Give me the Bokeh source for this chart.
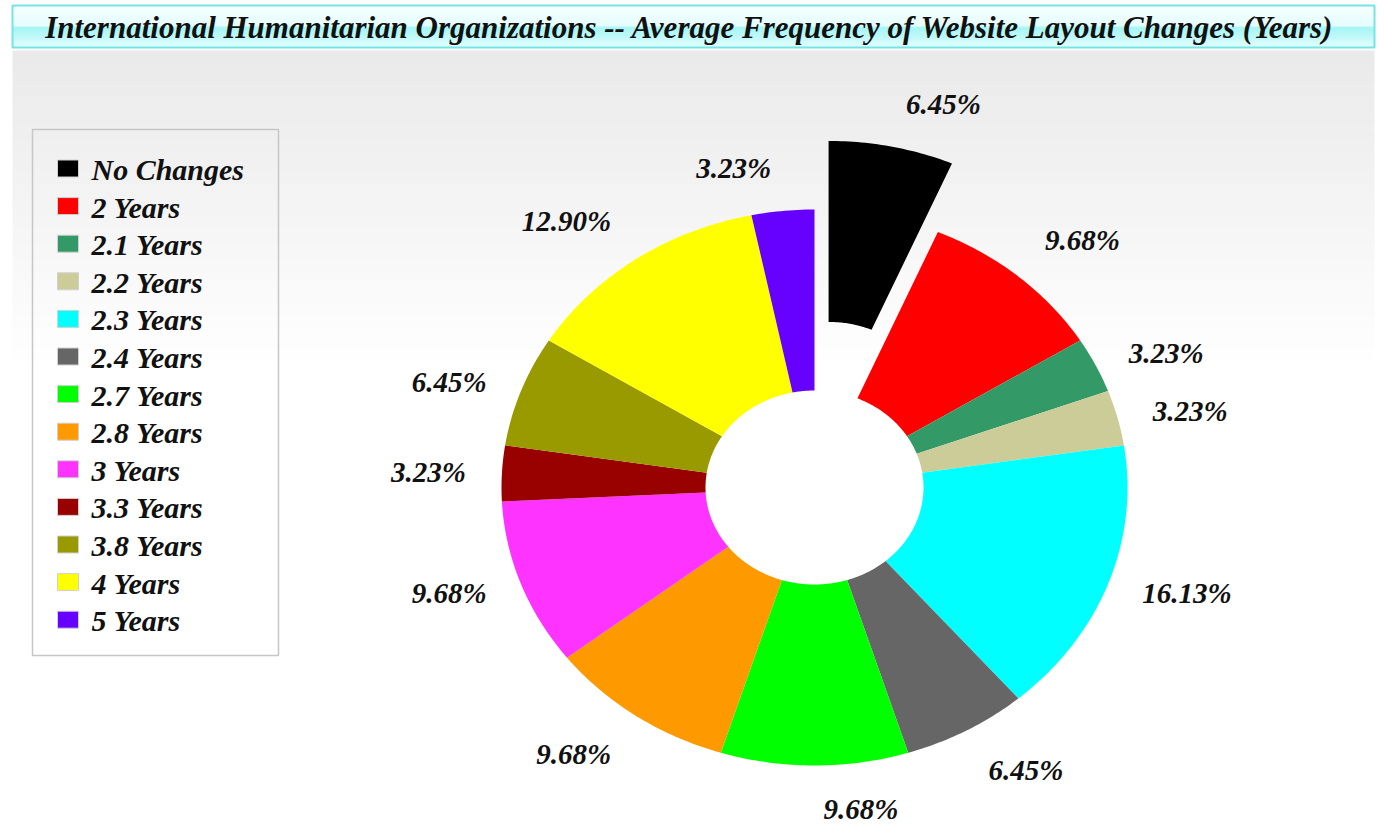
import numpy as np
from bokeh.plotting import figure
from bokeh.models import Range1d, ColumnDataSource
from bokeh.core.properties import value
from bokeh.embed import file_html
from bokeh.resources import INLINE

# ---------------- data ----------------
title = "International Humanitarian Organizations  -- Average Frequency of Website Layout Changes (Years)"
categories = ["No Changes", "2 Years", "2.1 Years", "2.2 Years", "2.3 Years", "2.4 Years",
              "2.7 Years", "2.8 Years", "3 Years", "3.3 Years", "3.8 Years", "4 Years", "5 Years"]
percent = [6.45, 9.68, 3.23, 3.23, 16.13, 6.45, 9.68, 9.68, 9.68, 3.23, 6.45, 12.90, 3.23]
colors = ["#000000", "#ff0000", "#339966", "#cccc99", "#00ffff", "#666666", "#00ff00",
          "#ff9900", "#ff33ff", "#990000", "#999900", "#ffff00", "#6600ff"]
exploded = [True, False, False, False, False, False, False, False, False, False, False, False, False]

# ---------------- layout (page pixel space) ----------------
W, H = 1384, 824
CX, CY = 814, 487          # pie centre
RX, RY = 313, 278          # outer radii
IRX, IRY = 109, 97         # inner radii
EXPLODE = 70
LRX, LRY, LPAD = 340, 305, 9
FONT = "Liberation Serif"

p = figure(width=W, height=H, output_backend="svg", toolbar_location=None,
           x_range=Range1d(0, W), y_range=Range1d(H, 0),
           min_border=0, x_axis_location=None, y_axis_location=None,
           background_fill_color="white", border_fill_color="white", outline_line_color=None)
p.grid.visible = False

# background gradient
nb = 120
ys = np.linspace(50, 380, nb + 1)
g = np.clip(234 + (ys[:-1] - 50) / 310 * 21, 234, 255).astype(int)
p.quad(left=12, right=1374, top=ys[:-1], bottom=ys[1:] + 0.5,
       fill_color=["#%02x%02x%02x" % (v, v, v) for v in g], line_color=None)

# title box
tb_top, tb_bot = 5, 47
tmid = (tb_top + tb_bot) / 2
n1 = 20
y1 = np.linspace(tb_top, tmid, n1 + 1)
c1 = [(int(248 - 22 * f), int(255 - 2 * f), int(255 - 2 * f)) for f in np.linspace(0, 1, n1)]
y2 = np.linspace(tmid, tb_bot, n1 + 1)
c2 = [(int(165 + 55 * f), int(245 + 8 * f), int(245 + 8 * f)) for f in np.linspace(0, 1, n1)]
p.quad(left=12, right=1374, top=np.concatenate([y1[:-1], y2[:-1]]), bottom=np.concatenate([y1[1:], y2[1:]]) + 0.3,
       fill_color=["#%02x%02x%02x" % c for c in c1 + c2], line_color=None)
p.quad(left=12, right=1374, top=tb_top, bottom=tb_bot, fill_color=None,
       line_color="#77e3e3", line_width=2)
p.text(x=[(12 + 1374) / 2], y=[tmid + 1], text=[title], text_align="center", text_baseline="middle",
       text_font=value(FONT), text_font_style="bold italic", text_font_size="31px", text_color="#111111")

# ---------------- donut ----------------
vals = np.array(percent, dtype=float)
frac = vals / vals.sum()
ends = np.cumsum(frac) * 2 * np.pi
starts = ends - frac * 2 * np.pi
mids = (starts + ends) / 2

xs_list, ys_list = [], []
lx, ly, la, lb = [], [], [], []
for a0, a1, m, ex in zip(starts, ends, mids, exploded):
    dx = EXPLODE * np.sin(m) if ex else 0.0
    dy = -EXPLODE * np.cos(m) if ex else 0.0
    t = np.linspace(a0, a1, max(8, int((a1 - a0) * 80)))
    ox = CX + RX * np.sin(t) + dx
    oy = CY - RY * np.cos(t) + dy
    ix = CX + IRX * np.sin(t[::-1]) + dx
    iy = CY - IRY * np.cos(t[::-1]) + dy
    xs_list.append(np.concatenate([ox, ix]).tolist())
    ys_list.append(np.concatenate([oy, iy]).tolist())
    s, c = np.sin(m), -np.cos(m)
    x = CX + LRX * s + dx
    if s > -0.01:
        x += LPAD
        la.append("left")
    else:
        x -= LPAD
        la.append("right")
    lx.append(x)
    ly.append(CY + LRY * c + dy)
    lb.append("bottom" if c < -0.5 else ("top" if c > 0.5 else "middle"))

p.patches(xs=xs_list, ys=ys_list, fill_color=colors, line_color=None)

labels = ["%.2f%%" % v for v in percent]
src = ColumnDataSource(dict(x=lx, y=ly, text=labels, align=la, base=lb))
p.text(x="x", y="y", text="text", text_align="align", text_baseline="base", source=src,
       text_font=value(FONT), text_font_style="bold italic", text_font_size="29px", text_color="#111111")

# ---------------- legend ----------------
p.quad(left=32, right=278, top=129, bottom=655, fill_color=None, line_color="#c6c6c6", line_width=1.5)
ly0, lstep = 168, 37.6
leg_y = [ly0 + i * lstep for i in range(len(categories))]
p.rect(x=67.5, y=leg_y, width=21, height=17, fill_color=colors, line_color="#d0d0d0")
p.text(x=91, y=[v + 1 for v in leg_y], text=categories, text_align="left", text_baseline="middle",
       text_font=value(FONT), text_font_style="bold italic", text_font_size="30px", text_color="#111111")

open("out.html", "w").write(file_html(p, INLINE))
